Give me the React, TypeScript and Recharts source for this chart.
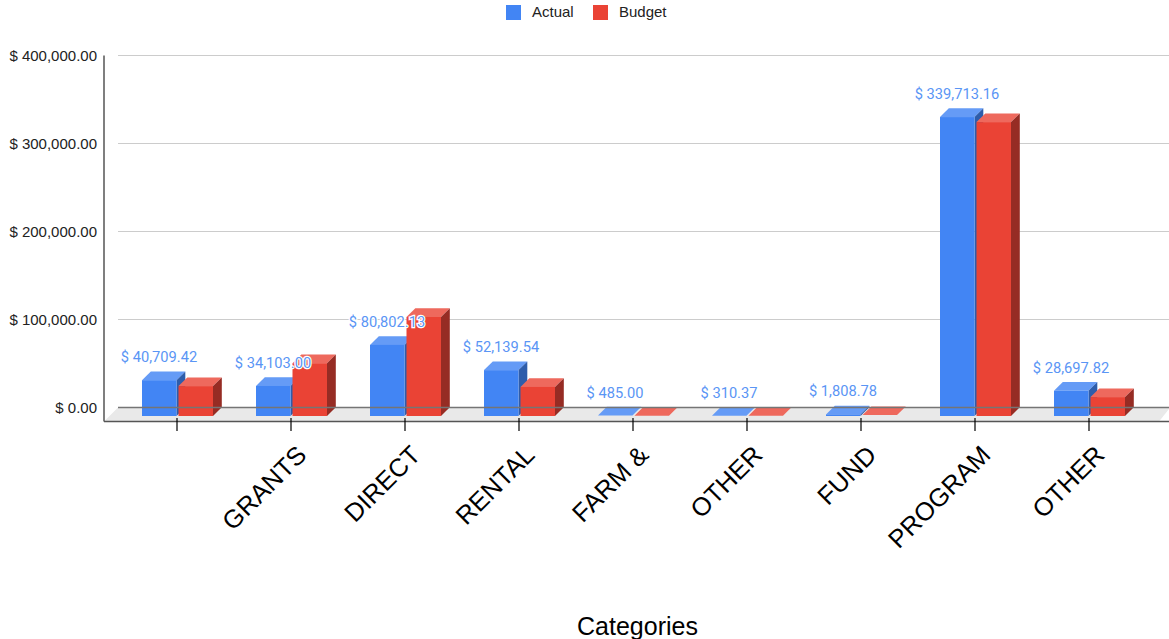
import React from "react";
import { Bar, CartesianGrid, ComposedChart, Label, Legend, Line, ReferenceLine, XAxis, YAxis } from "recharts";

const categories = ["", "GRANTS", "DIRECT", "RENTAL", "FARM &", "OTHER", "FUND", "PROGRAM", "OTHER"];
const actual = [40709.42, 34103, 80802.13, 52139.54, 485, 310.37, 1808.78, 339713.16, 28697.82];
const budget = [34000, 60000, 112500, 33000, 400, 300, 1000, 334000, 21500];
const yTicks = [0, 100000, 200000, 300000, 400000];

const data = categories.map((name, i) => ({ key: i, name, actual: actual[i], budget: budget[i] }));

const W = 1169;
const H = 639;
const TOP = 55.5;
const ZERO = 407.5;
const LEFT = 118;
const AXIS_X = 104;
const AXIS_Y = 421.5;
const FRONT = 8.5; // front plane sits this far below the back wall
const DEPTH_X = 8.8;
const DEPTH_Y = 8.7;

const money = (v: number) =>
  "$ " + v.toLocaleString("en-US", { minimumFractionDigits: 2, maximumFractionDigits: 2 });

function Box3D({ x, y, width, height, front, top, side }: any) {
  const fy = y + FRONT;
  const by = fy + height;
  return (
    <g>
      <polygon
        points={`${x},${fy} ${x + DEPTH_X},${fy - DEPTH_Y} ${x + width + DEPTH_X},${fy - DEPTH_Y} ${x + width},${fy}`}
        fill={top}
      />
      {/* nearly empty bars only show their lid */}
      {height >= 1 && (
        <>
          <polygon
            points={`${x + width},${fy} ${x + width + DEPTH_X},${fy - DEPTH_Y} ${x + width + DEPTH_X},${by - DEPTH_Y} ${x + width},${by}`}
            fill={side}
          />
          <rect x={x} y={fy} width={width} height={height} fill={front} />
        </>
      )}
    </g>
  );
}

function CategoryTick({ x, y, payload }: any) {
  return (
    <g>
      <line x1={x} x2={x} y1={y + FRONT} y2={y + 21.5} stroke="#000" strokeWidth={1.2} />
      <text
        x={x + 17}
        y={y + 47}
        transform={`rotate(-45 ${x + 17} ${y + 47})`}
        textAnchor="end"
        fontFamily="Liberation Sans"
        fontSize={25.5}
        fill="#000"
      >
        {payload.value}
      </text>
    </g>
  );
}

function ActualLabel({ x, y, value }: any) {
  return (
    <text
      x={x - 18}
      y={y - 9.5}
      textAnchor="middle"
      fontFamily="Roboto"
      fontSize={14.67}
      fill="#5a95f5"
      stroke="#fff"
      strokeWidth={2.5}
      paintOrder="stroke"
    >
      {money(value)}
    </text>
  );
}

function LegendBox({ payload }: any) {
  const items = (payload || []).filter((p: any) => p.type !== "none" && p.value !== "actual");
  return (
    <div style={{ position: "relative", height: 24, fontFamily: "Liberation Sans", fontSize: 15, color: "#222" }}>
      {items.map((p: any, i: number) => (
        <React.Fragment key={p.value}>
          <span style={{ position: "absolute", left: 506 + i * 87, top: 5, width: 15, height: 15, background: p.color }} />
          <span style={{ position: "absolute", left: 532 + i * 87, top: 4, lineHeight: "16px" }}>{p.value}</span>
        </React.Fragment>
      ))}
    </div>
  );
}

export default function App() {
  return (
    <div style={{ position: "absolute", left: 0, top: 0, width: W, height: H, background: "#fff" }}>
      <ComposedChart
        width={W}
        height={H}
        data={data}
        margin={{ top: TOP, right: 0, bottom: 0, left: 0 }}
        barSize={34.5}
        barGap={2}
      >
        <polygon
          points={`${AXIS_X},${AXIS_Y} ${LEFT},${ZERO} ${W},${ZERO} ${W},${ZERO + 1.5} ${W - 10},${AXIS_Y}`}
          fill="#e9e9e9"
        />
        <CartesianGrid vertical={false} stroke="#cccccc" />
        <XAxis
          dataKey="key"
          tickFormatter={(i: number) => categories[i]}
          height={H - ZERO}
          padding={{ left: 2, right: 23 }}
          axisLine={false}
          tickLine={false}
          tickSize={0}
          interval={0}
          tick={(p: any) => <CategoryTick {...p} payload={{ value: categories[p.payload.value] }} />}
        >
          <Label
            value="Categories"
            position="insideBottom"
            dx={-6}
            offset={4}
            style={{ fontFamily: "Liberation Sans", fontSize: 25, fill: "#000" }}
          />
        </XAxis>
        <YAxis
          width={LEFT}
          domain={[0, 400000]}
          ticks={yTicks}
          tickFormatter={money}
          axisLine={false}
          tickLine={false}
          tickSize={0}
          tickMargin={21}
          tick={{ fontFamily: "Liberation Sans", fontSize: 15, fill: "#222" }}
        />
        <ReferenceLine y={0} stroke="#757575" strokeWidth={1.5} />
        <Legend
          verticalAlign="middle"
          align="center"
          wrapperStyle={{ top: 0, left: 0, width: W }}
          content={<LegendBox />}
        />
        <Bar
          dataKey="actual"
          name="Actual"
          fill="#4285f4"
          isAnimationActive={false}
          shape={(p: any) => <Box3D {...p} front="#4285f4" top="#659bf6" side="#2e5dab" />}
        />
        <Bar
          dataKey="budget"
          name="Budget"
          fill="#ea4335"
          isAnimationActive={false}
          shape={(p: any) => <Box3D {...p} front="#ea4335" top="#ee695d" side="#962c24" />}
        />
        <Line
          dataKey="actual"
          stroke="none"
          dot={false}
          legendType="none"
          isAnimationActive={false}
          label={<ActualLabel />}
        />
        <line x1={AXIS_X} x2={AXIS_X} y1={TOP} y2={AXIS_Y} stroke="#555" strokeWidth={1.5} />
        <line x1={AXIS_X} x2={W} y1={AXIS_Y} y2={AXIS_Y} stroke="#555" strokeWidth={1.5} />
      </ComposedChart>
    </div>
  );
}
